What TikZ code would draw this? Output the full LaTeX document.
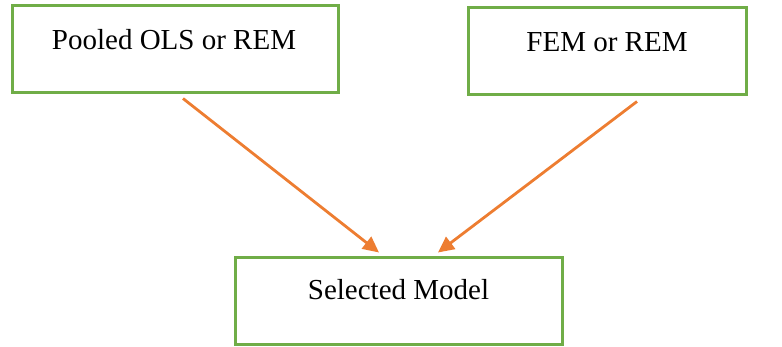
\documentclass[tikz,border=0pt]{standalone}
\usepackage{fontspec}
\setmainfont{Liberation Serif}
\usetikzlibrary{arrows.meta,calc}
\definecolor{boxgreen}{HTML}{70AD47}
\definecolor{arrorange}{HTML}{ED7D31}
\begin{document}
\begin{tikzpicture}[x=1pt,y=-1pt,
  modelbox/.style={draw=boxgreen,line width=3pt,fill=white,inner sep=0pt},
  flowarrow/.style={draw=arrorange,line width=2.8pt,-{Triangle[length=16pt,width=15pt]}},
  boxtext/.style={font=\fontsize{29}{34}\selectfont,anchor=center}]
\useasboundingbox (0,0) rectangle (782,347);
\node[modelbox,minimum width=326pt,minimum height=87pt] (pooled) at (175,49.5) {};
\node[modelbox,minimum width=278pt,minimum height=87pt] (fem) at (607,51.5) {};
\node[modelbox,minimum width=327pt,minimum height=87pt] (sel) at (398.5,301.5) {};
\node[boxtext] (pooledtxt) at (174,40) {Pooled OLS or REM};
\node[boxtext] (femtxt) at (607,42) {FEM or REM};
\node[boxtext] (seltxt) at (398.5,290) {Selected Model};
\coordinate (p1) at ($(pooled.south)+(8,4)$);
\coordinate (f1) at ($(fem.south)+(30,5)$);
\coordinate (s1) at ($(sel.north)+(-19.5,-4)$);
\coordinate (s2) at ($(sel.north)+(39.5,-4)$);
\draw[flowarrow] (p1) -- (s1);
\draw[flowarrow] (f1) -- (s2);
\end{tikzpicture}
\end{document}
